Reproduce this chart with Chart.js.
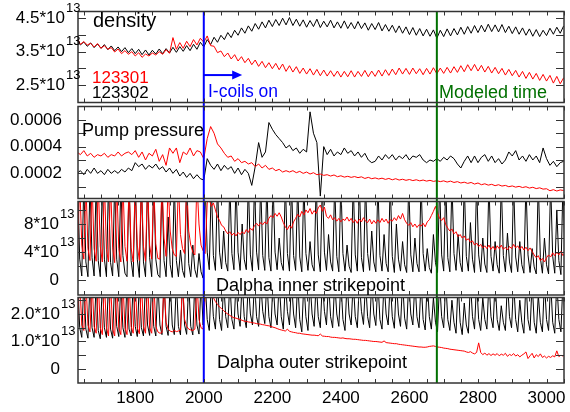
<!DOCTYPE html>
<html>
<head>
<meta charset="utf-8">
<script src="https://cdn.jsdelivr.net/npm/chart.js@4"></script>
<style>
  body { margin: 0; background: #fff; }
  #wrap { position: relative; width: 570px; height: 412px; font-family: "Liberation Sans", Arial, sans-serif; }
  canvas { position: absolute; left: 0; }
  .t { position: absolute; white-space: nowrap; line-height: 1; }
</style>
</head>
<body>
<div id="wrap">
  <canvas id="c1" width="570" height="104" style="top:0px"></canvas>
  <canvas id="c2" width="570" height="96" style="top:104px"></canvas>
  <canvas id="c3" width="570" height="96" style="top:200px"></canvas>
  <canvas id="c4" width="570" height="116" style="top:296px"></canvas>

  <div class="t" style="left:93px;top:10px;font-size:20px;color:#000">density</div>
  <div class="t" style="left:92px;top:69px;font-size:17px;color:#ff0000">123301</div>
  <div class="t" style="left:92px;top:84px;font-size:17px;color:#000">123302</div>
  <div class="t" style="left:208px;top:83px;font-size:17.5px;color:#0000ff">I-coils on</div>
  <div class="t" style="left:439px;top:83px;font-size:18px;color:#007000">Modeled time</div>
  <div class="t" style="left:82px;top:121px;font-size:18px;color:#000">Pump pressure</div>
  <div class="t" style="left:216px;top:275.5px;font-size:18px;color:#000">Dalpha inner strikepoint</div>
  <div class="t" style="left:217px;top:352.5px;font-size:18px;color:#000">Dalpha outer strikepoint</div>
</div>
<script>
// time axis (ms)
const X_MIN = 1633, X_MAX = 3051;
const xTickLabels = [1800, 2000, 2200, 2400, 2600, 2800, 3000];
const coilsOnTime = 2000;
const modeledTime = 2680;

// y ticks per panel (density and Dalpha in 1e13, pump pressure in 1e-4)
const densityTicks = [2.5, 3.0, 3.5, 4.0, 4.5];
const densityLabels = [2.5, 3.5, 4.5];
const pumpTicks = [1, 2, 3, 4, 5, 6];
const pumpLabels = [2, 4, 6];
const innerTicks = [0, 2, 4, 6, 8, 10];
const innerLabels = [0, 4, 8];
const outerTicks = [0, 0.5, 1, 1.5, 2, 2.5];
const outerLabels = [0, 1, 2];

// density, 1e13, sampled every 10 ms from 1630
const densStart = 1630, densStep = 10;
const density123302 = [
  3.82,3.70,3.79,3.66,3.76,3.62,3.73,3.60,3.71,3.56,
  3.67,3.53,3.64,3.50,3.62,3.47,3.59,3.44,3.57,3.41,
  3.55,3.40,3.54,3.43,3.58,3.44,3.59,3.46,3.63,3.48,
  3.65,3.51,3.68,3.53,3.72,3.57,3.78,3.64,3.86,3.71,
  3.93,3.78,3.99,3.86,4.07,3.92,4.14,3.99,4.21,4.05,
  4.27,4.11,4.34,4.17,4.39,4.21,4.44,4.25,4.46,4.28,
  4.50,4.30,4.52,4.28,4.47,4.26,4.45,4.23,4.43,4.25,
  4.47,4.22,4.41,4.24,4.44,4.21,4.39,4.20,4.42,4.19,
  4.37,4.18,4.40,4.19,4.36,4.14,4.34,4.16,4.37,4.12,
  4.31,4.11,4.29,4.07,4.27,4.05,4.24,4.01,4.22,3.99,
  4.19,3.97,4.17,3.96,4.15,3.90,4.14,3.95,4.18,3.97,
  4.19,4.00,4.23,4.02,4.25,4.05,4.28,4.07,4.29,4.09,
  4.32,4.10,4.30,4.09,4.31,4.07,4.26,4.04,4.24,4.02,
  4.21,3.99,4.18,3.96,4.16,3.95,4.14,3.98,4.20,4.02,
  4.23,4.05,4.27
];
const density123301 = [
  3.92,3.72,3.80,3.70,3.75,3.64,3.74,3.60,3.68,3.57,
  3.62,3.49,3.58,3.44,3.53,3.42,3.50,3.37,3.47,3.33,
  3.43,3.37,3.46,3.40,3.50,3.42,3.56,3.45,3.92,3.57,
  3.77,3.60,3.81,3.65,3.86,3.70,3.90,3.78,3.97,3.68,
  3.66,3.47,3.52,3.35,3.46,3.28,3.41,3.22,3.35,3.17,
  3.30,3.11,3.25,3.06,3.21,3.02,3.17,2.99,3.15,2.96,
  3.13,2.91,3.08,2.89,3.05,2.85,3.01,2.83,2.99,2.80,
  2.97,2.78,2.95,2.77,2.93,2.76,2.92,2.74,2.91,2.75,
  2.93,2.74,2.91,2.76,2.94,2.75,2.92,2.76,2.95,2.77,
  2.96,2.79,2.98,2.81,3.01,2.83,3.00,2.82,3.01,2.84,
  2.99,2.81,3.00,2.83,3.02,2.84,3.01,2.85,3.03,2.86,
  3.05,2.88,3.08,2.90,3.11,2.93,3.12,2.92,3.09,2.89,
  3.06,2.86,3.03,2.84,3.00,2.80,2.97,2.78,2.94,2.74,
  2.91,2.70,2.88,2.68,2.85,2.64,2.82,2.62,2.79,2.56,
  2.76,2.54,2.72
];

// pump pressure, 1e-4, every 10 ms from 1630
const pumpStart = 1630, pumpStep = 10;
const pump123301 = [
  3.6,3.4,3.7,3.3,3.5,3.2,3.4,3.3,3.5,3.2,
  3.4,3.3,3.6,3.3,3.5,3.6,3.4,3.7,3.2,3.6,
  3.0,3.5,3.3,3.8,2.9,3.4,2.6,3.9,3.5,3.9,
  2.8,3.6,3.4,3.9,3.3,3.7,3.6,3.1,4.6,5.5,
  5.0,4.2,3.9,3.5,3.2,3.3,2.9,3.1,2.8,2.9,
  2.7,2.8,2.5,2.7,2.4,2.6,2.3,2.4,2.2,2.3,
  2.1,2.2,2.1,2.2,2.05,2.15,2.0,2.1,1.95,2.05,
  1.9,1.95,1.85,1.9,1.8,1.88,1.75,1.82,1.72,1.78,
  1.7,1.76,1.68,1.74,1.62,1.7,1.6,1.66,1.58,1.64,
  1.55,1.62,1.52,1.6,1.5,1.56,1.48,1.54,1.46,1.52,
  1.44,1.5,1.42,1.48,1.4,1.45,1.38,1.44,1.35,1.42,
  1.32,1.38,1.28,1.34,1.25,1.32,1.2,1.28,1.15,1.22,
  1.12,1.18,1.08,1.15,1.05,1.1,1.0,1.06,0.97,1.03,
  0.94,1.0,0.9,0.96,0.86,0.92,0.82,0.85,0.7,0.78,
  0.68,0.76,0.72
];
const pump123302 = [
  2.0,2.2,1.9,2.3,2.0,2.4,2.0,2.2,1.9,2.3,
  2.0,2.2,2.0,2.3,2.1,2.4,2.2,2.8,2.5,2.7,
  2.3,2.6,2.4,2.7,2.3,2.5,2.1,2.4,2.0,2.3,
  1.8,2.1,1.7,2.0,1.6,1.9,1.6,1.5,3.1,2.6,
  2.3,2.7,2.2,2.6,2.3,2.5,2.0,2.4,1.9,2.3,
  2.0,1.1,2.5,4.3,3.2,3.6,5.8,5.3,4.9,4.6,
  4.3,3.9,4.1,3.7,3.9,3.5,3.8,3.6,6.6,5.0,
  4.3,0.3,4.0,3.4,3.8,3.3,3.6,3.4,3.9,3.5,
  3.7,3.3,3.6,3.2,3.5,3.0,2.8,2.9,3.3,3.0,
  3.4,3.1,3.4,3.0,3.3,3.1,3.4,3.0,3.3,3.2,
  3.4,3.0,2.8,3.0,2.9,3.1,2.9,3.2,3.0,3.3,
  3.1,2.7,2.4,2.9,3.3,2.8,3.3,2.8,3.2,3.4,
  2.9,3.3,2.8,3.1,2.7,3.0,3.6,3.3,3.7,3.0,
  3.3,2.9,3.4,3.0,3.3,2.8,3.9,3.1,2.6,2.9,
  2.5,2.8,2.9
];

// Dalpha, 1e13, every 6 ms from 1632
const daStart = 1632, daStep = 6;
const inner123302 = [
  14,3,0.6, 14,2.6,0.5, 14,3.2,0.6, 14,2.8,0.5, 14,3,0.5, 14,2.5,0.6, 14,3,0.5,
  14,3.5,1,0.5, 14,2.8,0.5, 14,3,0.4, 14,2.6,0.5, 14,3.2,0.5,
  14,3,0.8,0.4, 14,2.8,0.5, 9,2.2,0.4, 14,2.8,0.5, 4.3,1.4,0.4, 14,2.4,0.5, 5,1.5,0.4, 3.8,1.2,0.3,
  // after 2000
  14,4,1.5, 14,3.5,1.4, 14,4,1.6, 7,2.5,1.3, 14,3.8,1.5, 14,4,1.4, 8,3,1.5, 14,3.6,1.3,
  14,4,1.5, 14,3.5,1.4, 14,3.2,1.3, 14,4,1.5, 6,2.5,1.4, 14,3.8,1.3, 14,3.5,1.4, 14,3.3,1.2,
  14,3.8,1.4, 5.5,2.2,1.3, 14,3.6,1.2, 14,4,1.4, 6.5,2.6,1.3, 14,3.4,1.2, 14,3.8,1.3, 5,2,1.1,
  14,3.6,1.3, 14,3.2,1.2, 14,3.8,1.4, 7,2.6,1.2, 14,3.5,1.3, 6.5,2.4,1.2, 14,3.4,1.1, 8,3,1.3,
  5.5,2.2,1.1, 14,3.6,1.2, 6,2.4,1.2, 14,3.8,1.3, 4.5,1.8,1.0, 6.5,2.5,1.1, 14,3.6,1.3, 14,3.2,1.2,
  14,3.8,1.4, 6.5,2.5,1.2, 14,3.4,1.3, 8.2,3,1.1, 14,3.6,1.2, 6,2.3,1.1, 14,3.4,1.3, 5.5,2.2,1.0,
  14,3.5,1.2, 6.7,2.6,1.1, 14,3.3,1.2, 5.5,2.2,1.0, 14,3.6,1.1, 4.5,1.9,0.9, 14,3.2,1.0, 6,2.2,0.9,
  14,3.4,1.0, 10,2.8,0.8, 14,3
];
const inner123301 = [
  4.3, 14,5,3, 14,4.5,2.8, 14,4.5,2.7, 14,4.8,2.6, 14,4.4,2.6, 14,4.6,2.5, 14,4.5,2.6,
  14,4.8,2.7, 14,4.6,2.6, 14,5,2.8, 14,4.8,2.7, 14,5,3, 14,5.2,3.1, 3.0, 14,6,3.4,
  14,7,4.5,3.6,3.4, 14,6.5,4.5,3.8, 14,7,5,4,3.6, 14,8,5,4.2,3.8,
  // after 2000
  11,11.5,10.5,11,10,9,8.5,7.8,7.6,7.0,
  6.6,6.9,6.4,6.7,6.3,6.8,6.5,6.9,6.6,7.2,
  6.8,7.4,7.1,7.8,8.1,7.7,8.2,7.9,8.3,8.0,
  8.8,9.2,8.9,9.5,9.1,9.6,9.0,8.2,7.6,7.2,
  7.8,7.4,8.3,8.8,9.4,9.0,9.8,9.3,10.0,9.6,
  10.2,9.4,9.9,9.5,10.3,10.7,9.8,10.4,9.1,8.8,
  9.3,8.6,8.9,8.4,8.8,8.3,8.7,8.5,9.0,8.4,
  8.8,8.2,8.6,8.1,8.7,8.3,8.9,8.4,8.2,8.7,
  8.0,8.5,8.1,8.6,8.2,8.8,8.3,8.7,8.1,8.6,
  8.4,8.9,8.5,9.2,8.7,9.5,8.6,8.1,7.8,8.2,
  7.6,8.0,7.5,7.9,7.7,8.1,7.6,8.3,8.6,9.2,
  9.8,10.5,9.6,8.8,8.5,8.9,7.9,7.4,7.0,7.3,
  6.6,6.9,6.2,6.5,6.0,6.3,5.7,5.9,5.4,5.6,
  5.0,5.3,4.8,5.1,4.6,4.9,4.5,5.0,4.4,4.8,
  4.3,4.9,4.5,5.0,4.4,4.7,4.3,4.8,4.5,5.1,
  4.6,4.9,4.4,4.8,4.3,4.7,4.2,4.6,4.1,3.6,
  3.2,3.5,2.8,3.1,2.6,3.2,3.6,3.3,3.9,3.5,
  4.0,3.6,4.1,3.5,3.9,3.6
];
const outer123302 = [
  3.2,1.5,1.15, 3.2,1.45,1.12, 3.2,1.5,1.15, 3.2,1.4,1.1, 3.2,1.5,1.15, 3.2,1.45,1.12, 3.2,1.55,1.18,
  3.2,1.5,1.15, 3.2,1.45,1.2, 3.2,1.55,1.18, 3.2,1.5,1.2, 3.2,1.6,1.22, 3.2,1.55,1.2, 3.2,1.6,1.25,
  3.2,1.55,1.22, 3.2,1.6,1.25, 3.2,1.55,1.24, 3.2,1.6,1.26, 3.2,1.55,1.24, 3.2,1.6,1.27, 3.2,1.6,
  // after 2000
  3.2,1.8,1.4, 3.2,1.9,1.45, 3.2,1.8,1.4, 3.2,1.9,1.5, 3.2,1.8,1.45, 3.2,2.0,1.55, 3.2,1.9,1.5,
  3.2,2.0,1.6, 3.2,1.9,1.55, 3.2,2.1,1.65, 3.2,1.9,1.5, 3.2,2.0,1.6, 3.2,1.9,1.45, 3.2,2.1,1.6,
  3.2,2.0,1.5, 3.2,1.8,1.35, 3.2,1.9,1.4, 3.2,2.0,1.55, 3.2,1.9,1.5, 3.2,2.1,1.6, 3.2,1.9,1.5,
  3.2,2.0,1.55, 3.2,1.8,1.4, 3.2,2.0,1.6, 3.2,1.9,1.5, 3.2,2.1,1.62, 3.2,1.9,1.5, 3.2,2.0,1.58,
  3.2,1.8,1.45, 3.2,2.0,1.6, 3.2,1.9,1.48, 3.2,2.0,1.55, 3.2,1.85,1.45, 3.2,2.0,1.6, 3.2,1.9,1.5,
  3.2,1.8,1.42, 3.2,1.9,1.45, 2.6,1.7,1.35, 3.2,1.9,1.5, 3.2,1.8,1.4, 2.5,1.7,1.3, 3.2,1.7,1.25,
  2.4,1.6,1.3, 3.2,1.9,1.45, 3.2,1.8,1.4, 2.6,1.8,1.45, 3.2,1.9,1.5, 3.2,1.8,1.4, 2.3,1.7,1.4,
  3.2,1.9,1.5, 3.2,1.8,1.35, 2.5,1.7,1.3, 3.2,1.8,1.4, 3.2,1.7,1.3, 2.7,1.7,1.35, 3.2,1.8,1.4,
  3.2,1.7,1.3, 3.2,1.8,1.35, 3.2,1.7
];
const outer123301 = [
  1.7, 3.2,1.6,1.4, 3.2,1.6,1.35, 3.2,1.55,1.3, 3.2,1.5,1.25, 3.2,1.5,1.2, 3.2,1.45,1.2,
  3.2,1.5,1.25, 3.2,1.5,1.25, 3.2,1.55,1.3, 3.2,1.5,1.28, 3.2,1.55,1.3, 3.2,1.5,1.3,
  3.2,1.55,1.35, 1.3,1.32, 3.2,1.7,1.45,1.38,1.35,1.4,1.36,1.38,1.42,
  3.2,1.8,1.55,1.45,1.42,1.4,1.45, 3.2,1.8,1.5,1.45,
  // after 2000
  2.6,3.2,3.2,2.9,2.6,2.45,2.35,2.25,2.2,2.12,
  2.05,2.0,1.95,1.9,1.86,1.85,1.82,1.8,1.77,1.74,
  1.73,1.71,1.7,1.68,1.67,1.65,1.64,1.63,1.61,1.6,
  1.58,1.57,1.55,1.52,1.5,1.47,1.44,1.42,1.4,1.38,
  1.45,1.37,1.35,1.33,1.32,1.3,1.3,1.28,1.27,1.26,
  1.25,1.24,1.23,1.23,1.22,1.21,1.27,1.2,1.19,1.18,
  1.18,1.16,1.15,1.15,1.14,1.13,1.12,1.13,1.11,1.1,
  1.1,1.09,1.08,1.08,1.07,1.06,1.05,1.04,1.04,1.03,
  1.02,1.01,1.0,1.0,0.99,0.98,0.97,1.02,0.96,0.95,
  0.94,0.93,0.92,0.92,0.9,0.89,0.88,0.87,0.86,0.85,
  0.84,0.83,0.82,0.81,0.8,0.8,0.79,0.79,0.8,0.82,
  0.83,0.84,0.82,0.8,0.79,0.78,0.76,0.75,0.74,0.72,
  0.71,0.7,0.69,0.68,0.67,0.66,0.65,0.62,0.6,0.63,
  0.58,0.55,0.6,0.95,0.6,0.52,0.58,0.5,0.56,0.49,
  0.55,0.5,0.56,0.48,0.54,0.5,0.57,0.46,0.53,0.49,
  0.56,0.47,0.52,0.44,0.5,0.55,0.62,0.38,0.48,0.57,
  0.4,0.52,0.45,0.55,0.42,0.47,0.4,0.46,0.42,0.48,
  0.44,0.66,0.45,0.5,0.47,0.52
];

const FONT = "Liberation Sans";

function series(start, step, vals) {
  return vals.map((v, i) => ({ x: start + i * step, y: v }));
}

// frame, inward ticks, marker lines, superscripts
const framePlugin = {
  id: 'frame',
  afterDatasetsDraw(chart, args, o) {
    const { ctx, chartArea: a } = chart;
    const x = chart.scales.x, y = chart.scales.y;
    ctx.save();

    ctx.lineWidth = 2;
    [[coilsOnTime, '#0000ff'], [modeledTime, '#007000']].forEach(([t, c]) => {
      const px = x.getPixelForValue(t);
      ctx.strokeStyle = c;
      ctx.beginPath();
      ctx.moveTo(px, o.first ? a.top : 0);
      ctx.lineTo(px, o.last ? a.bottom : chart.height);
      ctx.stroke();
    });

    if (o.arrow) {
      const x0 = x.getPixelForValue(coilsOnTime), x1 = x.getPixelForValue(o.arrow.to);
      const py = y.getPixelForValue(o.arrow.y);
      ctx.strokeStyle = '#0000ff';
      ctx.fillStyle = '#0000ff';
      ctx.lineWidth = 2;
      ctx.beginPath(); ctx.moveTo(x0, py); ctx.lineTo(x1 - 8, py); ctx.stroke();
      ctx.beginPath(); ctx.moveTo(x1, py); ctx.lineTo(x1 - 10, py - 4.5); ctx.lineTo(x1 - 10, py + 4.5); ctx.closePath(); ctx.fill();
    }

    ctx.strokeStyle = '#333';
    ctx.lineWidth = 1.5;
    ctx.strokeRect(a.left, a.top, a.right - a.left, a.bottom - a.top);

    ctx.lineWidth = 1;
    ctx.beginPath();
    for (let t = 1650; t <= 3050; t += 50) {
      const px = Math.round(x.getPixelForValue(t)) + 0.5;
      ctx.moveTo(px, a.bottom); ctx.lineTo(px, a.bottom - 4);
      ctx.moveTo(px, a.top); ctx.lineTo(px, a.top + 4);
    }
    o.ticks.forEach(v => {
      const py = Math.round(y.getPixelForValue(v)) + 0.5;
      ctx.moveTo(a.left, py); ctx.lineTo(a.left + 8, py);
      ctx.moveTo(a.right, py); ctx.lineTo(a.right - 8, py);
    });
    ctx.stroke();

    if (o.exp) {
      ctx.fillStyle = '#000';
      ctx.font = '13px "' + FONT + '"';
      ctx.textAlign = 'left';
      ctx.textBaseline = 'middle';
      o.labels.forEach(v => {
        if (v === 0) return;
        ctx.fillText(o.exp, a.left - o.pad + 1, y.getPixelForValue(v) - 10);
      });
    }
    ctx.restore();
  }
};

function makePanel(id, p) {
  return new Chart(document.getElementById(id), {
    type: 'line',
    data: {
      datasets: [
        { label: '123301', data: series(p.start, p.step, p.red), borderColor: '#ff0000' },
        { label: '123302', data: series(p.start, p.step, p.black), borderColor: '#000000' }
      ]
    },
    options: {
      responsive: false,
      animation: false,
      events: [],
      elements: { point: { radius: 0 }, line: { borderWidth: 1, tension: 0, fill: false } },
      layout: { padding: { left: 0, right: 6, top: p.padTop, bottom: p.padBottom } },
      scales: {
        x: {
          type: 'linear', min: X_MIN, max: X_MAX, display: !!p.showX,
          afterBuildTicks: s => { s.ticks = xTickLabels.map(v => ({ value: v })); },
          afterFit: s => { if (p.showX) s.height = 29; s.paddingLeft = 0; s.paddingRight = 0; },
          ticks: { autoSkip: false, maxRotation: 0, padding: 5, color: '#000', font: { family: FONT, size: 17 }, callback: v => String(v) },
          grid: { display: false, drawTicks: false },
          border: { display: false }
        },
        y: {
          min: p.min, max: p.max,
          afterBuildTicks: s => { s.ticks = p.labels.map(v => ({ value: v })); },
          afterFit: s => { s.width = 78; s.paddingTop = 0; s.paddingBottom = 0; },
          ticks: { padding: p.pad, color: '#000', font: { family: FONT, size: 17 }, callback: p.fmt },
          grid: { display: false, drawTicks: false },
          border: { display: false }
        }
      },
      plugins: {
        legend: { display: false },
        tooltip: { enabled: false },
        frame: { ticks: p.ticks, labels: p.labels, exp: p.exp, pad: p.pad, first: p.first, last: p.last, arrow: p.arrow }
      }
    },
    plugins: [framePlugin]
  });
}

makePanel('c1', {
  start: densStart, step: densStep, red: density123301, black: density123302,
  min: 1.98, max: 4.70, ticks: densityTicks, labels: densityLabels,
  fmt: v => v.toFixed(1) + '*10', exp: '13', pad: 13,
  padTop: 11.5, padBottom: 1.5, first: true, arrow: { to: 2112, y: 2.8 }
});
makePanel('c2', {
  start: pumpStart, step: pumpStep, red: pump123301, black: pump123302,
  min: 0.12, max: 7.0, ticks: pumpTicks, labels: pumpLabels,
  fmt: v => (v * 1e-4).toFixed(4), pad: 16,
  padTop: 2.5, padBottom: 1.5
});
makePanel('c3', {
  start: daStart, step: daStep, red: inner123301, black: inner123302,
  min: -2.1, max: 11.2, ticks: innerTicks, labels: innerLabels,
  fmt: v => v === 0 ? '0' : v + '*10', exp: '13', pad: 19,
  padTop: 1.5, padBottom: 1
});
makePanel('c4', {
  start: daStart, step: daStep, red: outer123301, black: outer123302,
  min: -0.51, max: 2.6, ticks: outerTicks, labels: outerLabels,
  fmt: v => v === 0 ? '0' : v.toFixed(1) + '*10', exp: '13', pad: 18,
  padTop: 1.5, padBottom: 0, showX: true, last: true
});
</script>
</body>
</html>
